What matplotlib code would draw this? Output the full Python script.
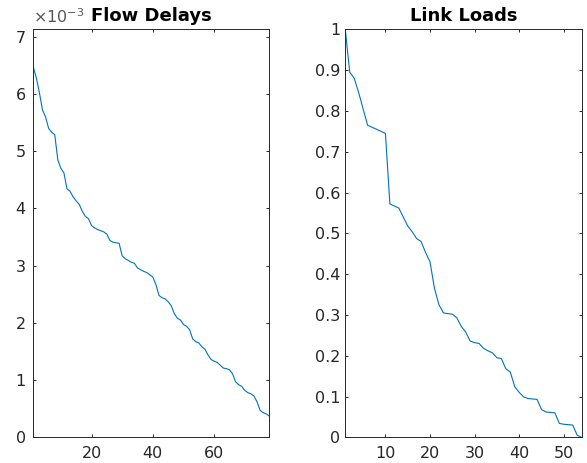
import numpy as np
import matplotlib
matplotlib.use('Agg')
import matplotlib.pyplot as plt
from matplotlib.ticker import FuncFormatter

plt.rcParams['font.family'] = ['DejaVu Sans']
plt.rcParams['mathtext.fontset'] = 'dejavusans'

# flow delays (seconds), sorted descending
flow_delays = np.array([
    6.47, 6.28, 6.02, 5.72, 5.60, 5.40, 5.33, 5.29, 4.85, 4.70,
    4.62, 4.34, 4.30, 4.20, 4.13, 4.07, 3.95, 3.86, 3.82, 3.70,
    3.66, 3.63, 3.61, 3.59, 3.55, 3.44, 3.41, 3.40, 3.39, 3.17,
    3.12, 3.09, 3.06, 3.04, 2.96, 2.93, 2.90, 2.88, 2.84, 2.80,
    2.67, 2.48, 2.44, 2.42, 2.37, 2.30, 2.16, 2.08, 2.05, 1.97,
    1.94, 1.88, 1.72, 1.67, 1.65, 1.58, 1.54, 1.44, 1.36, 1.33,
    1.31, 1.26, 1.21, 1.20, 1.18, 1.11, 0.97, 0.92, 0.89, 0.82,
    0.78, 0.76, 0.72, 0.62, 0.47, 0.43, 0.41, 0.37,
]) * 1e-3

# link loads, sorted descending
link_loads = np.array([
    1.000, 0.895, 0.880, 0.845, 0.805, 0.765, 0.760, 0.755, 0.750, 0.745,
    0.572, 0.567, 0.562, 0.540, 0.518, 0.504, 0.487, 0.480, 0.453, 0.430,
    0.365, 0.325, 0.305, 0.303, 0.302, 0.293, 0.272, 0.258, 0.236, 0.232,
    0.230, 0.218, 0.212, 0.207, 0.195, 0.193, 0.168, 0.160, 0.124, 0.110,
    0.099, 0.095, 0.094, 0.093, 0.068, 0.062, 0.061, 0.060, 0.034, 0.032,
    0.031, 0.030, 0.005, 0.000,
])

delay_xticks = [20, 40, 60]
delay_yticks = [0, 1e-3, 2e-3, 3e-3, 4e-3, 5e-3, 6e-3, 7e-3]
load_xticks = [10, 20, 30, 40, 50]
load_yticks = [0, 0.1, 0.2, 0.3, 0.4, 0.5, 0.6, 0.7, 0.8, 0.9, 1]

line_col = '#0072BD'
axis_col = '#262626'

fig = plt.figure(figsize=(5.87, 4.63), dpi=100)
ax1 = fig.add_axes([0.0567, 0.0555, 0.4021, 0.8812])
ax2 = fig.add_axes([0.5882, 0.0555, 0.4027, 0.8812])

def style(ax, ypad):
    for s in ax.spines.values():
        s.set_color(axis_col)
        s.set_linewidth(0.7)
    ax.tick_params(direction='in', top=True, right=True, length=2.5,
                   width=0.7, color=axis_col, labelcolor=axis_col,
                   labelsize=11.5)
    ax.tick_params(axis='x', pad=6)
    ax.tick_params(axis='y', pad=ypad)

x1 = np.arange(1, len(flow_delays) + 1)
ax1.plot(x1, flow_delays, color=line_col, lw=0.8)
ax1.set_xlim(1, len(flow_delays))
ax1.set_ylim(0, 7.13e-3)
ax1.set_xticks(delay_xticks)
ax1.set_yticks(delay_yticks)
ax1.yaxis.set_major_formatter(FuncFormatter(lambda v, p: f'{v * 1e3:g}'))
style(ax1, 5.5)
ax1.set_title('Flow Delays', fontsize=13, fontweight='bold', pad=6)
ax1.text(0.0, 1.008, r'$\times10^{-3}$', transform=ax1.transAxes,
         fontsize=11.5, color='#555555', ha='left', va='bottom')

x2 = np.arange(1, len(link_loads) + 1)
ax2.plot(x2, link_loads, color=line_col, lw=0.8)
ax2.set_xlim(1, len(link_loads))
ax2.set_ylim(0, 1)
ax2.set_xticks(load_xticks)
ax2.set_yticks(load_yticks)
ax2.yaxis.set_major_formatter(FuncFormatter(lambda v, p: f'{v:g}'))
style(ax2, 3.5)
ax2.set_title('Link Loads', fontsize=13, fontweight='bold', pad=6)

fig.savefig('out.png', dpi=100)
